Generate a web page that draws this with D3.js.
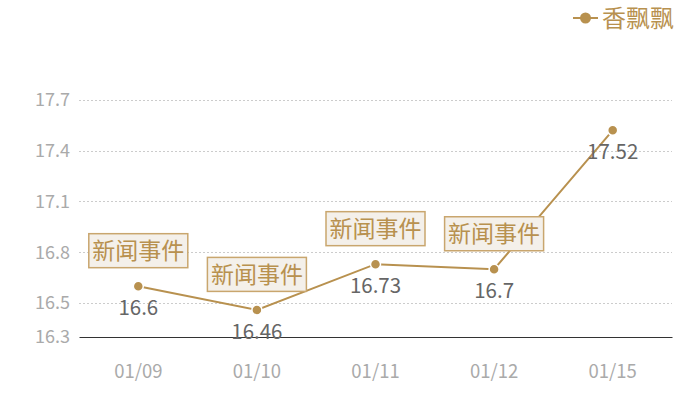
<!DOCTYPE html>
<html><head><meta charset="utf-8">
<script src="https://cdn.jsdelivr.net/npm/d3@7"></script>
<style>body{margin:0;background:#fff}svg{display:block}text{font-family:"Noto Sans CJK SC","Noto Sans",sans-serif}</style>
</head><body><svg id="c" width="700" height="400"></svg>
<script>
const categories = ["01/09","01/10","01/11","01/12","01/15"];
const values = [16.6, 16.46, 16.73, 16.7, 17.52];
const annotations = ["新闻事件","新闻事件","新闻事件","新闻事件",null];
const yTicks = [16.3, 16.5, 16.8, 17.1, 17.4, 17.7];
const seriesName = "香飘飘";
const gold = "#b8914f";

const svg = d3.select("#c");
const x = d3.scaleBand().domain(categories).range([79, 672]);
const y = d3.scaleLinear().domain([16.3, 17.9]).range([337, 66]);
const cx = d => x(d) + x.bandwidth()/2;

// grid
svg.append("g").selectAll("line").data(yTicks.filter(t => t > 16.3)).join("line")
  .attr("x1", 79).attr("x2", 672).attr("y1", d => Math.round(y(d))+0.5).attr("y2", d => Math.round(y(d))+0.5)
  .attr("stroke", "#ccc").attr("stroke-dasharray", "2,2");

// y axis labels
const yAxis = d3.axisLeft(y).tickValues(yTicks).tickSize(0).tickPadding(9).tickFormat(d3.format(".1f"));
const gy = svg.append("g").attr("transform", "translate(79,0)").call(yAxis);
gy.select(".domain").remove();
gy.selectAll("text").attr("fill", "#aaa").style("font-size", "18px");

// x axis
const xAxis = d3.axisBottom(x).tickSize(0).tickPadding(28);
const gx = svg.append("g").attr("transform", "translate(0,337)").call(xAxis);
gx.select(".domain").attr("stroke", "#333").attr("stroke-width", 1);
gx.selectAll("text").attr("fill", "#aaa").style("font-size", "18.5px");

// line
const line = d3.line().x((d,i) => cx(categories[i])).y(d => y(d));
svg.append("path").datum(values).attr("d", line).attr("fill", "none")
  .attr("stroke", gold).attr("stroke-width", 2);

// points
svg.append("g").selectAll("circle").data(values).join("circle")
  .attr("cx", (d,i) => cx(categories[i])).attr("cy", d => y(d)).attr("r", 5)
  .attr("fill", gold).attr("stroke", "#fff").attr("stroke-width", 1.5);

// value labels
svg.append("g").selectAll("text").data(values).join("text")
  .attr("x", (d,i) => cx(categories[i])).attr("y", d => y(d) + 29)
  .attr("text-anchor", "middle").attr("fill", "#666").style("font-size", "20.5px")
  .text(d => d);

// annotations
const ann = svg.append("g").selectAll("g").data(values.map((v,i) => ({v, i, t: annotations[i]})).filter(d => d.t)).join("g")
  .attr("transform", d => `translate(${cx(categories[d.i])},${y(d.v) - 18})`);
ann.append("rect").attr("x", -49.5).attr("y", -34.5).attr("width", 99).attr("height", 34)
  .attr("fill", "#f4f0ea").attr("stroke", "#c9a66e").attr("stroke-width", 1.5);
ann.append("text").attr("x", 0).attr("y", -9).attr("text-anchor", "middle")
  .attr("fill", gold).style("font-size", "23px").text(d => d.t);

// legend
const lg = svg.append("g").attr("transform", "translate(573,18)");
lg.append("line").attr("x1", 0).attr("x2", 25).attr("stroke", gold).attr("stroke-width", 2);
lg.append("circle").attr("cx", 12.5).attr("r", 5.5).attr("fill", gold);
lg.append("text").attr("x", 29).attr("y", 8.5).attr("fill", gold).style("font-size", "24px").text(seriesName);
</script></body></html>
